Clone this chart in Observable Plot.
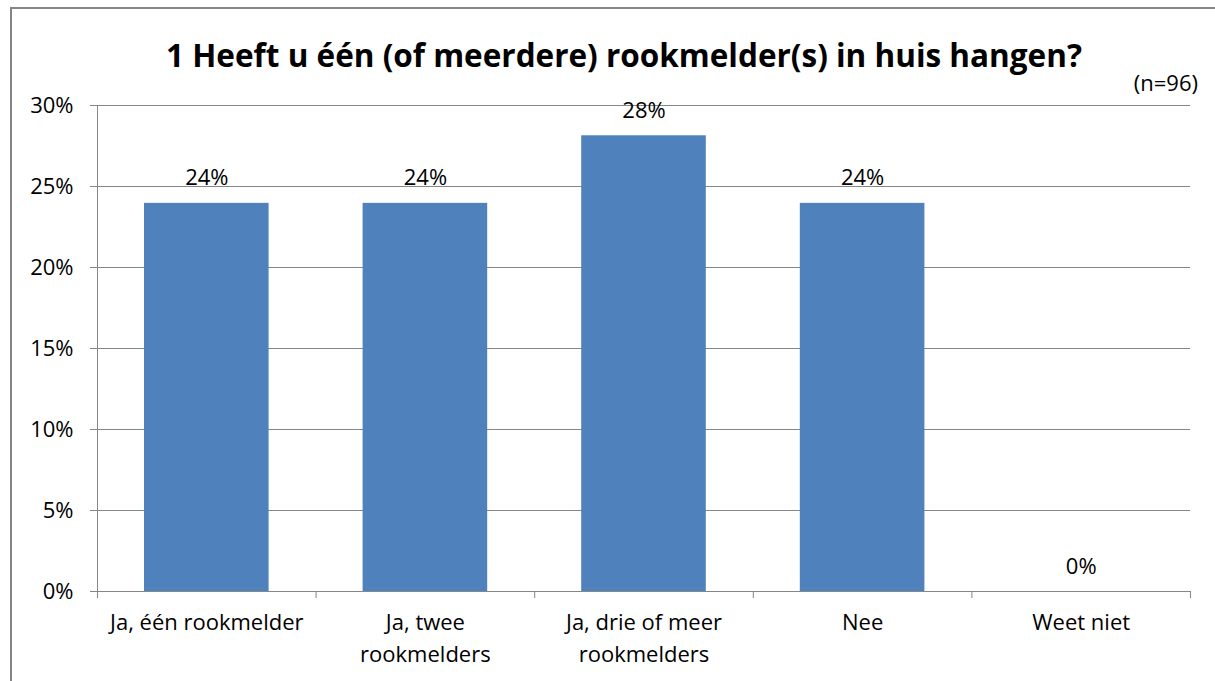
<!DOCTYPE html>
<html><head><meta charset="utf-8">
<script src="https://cdn.jsdelivr.net/npm/d3@7"></script>
<script src="https://cdn.jsdelivr.net/npm/@observablehq/plot@0.6"></script>
<style>
html,body{margin:0;padding:0;background:#fff;overflow:hidden;}
#wrap{position:relative;width:1215px;height:681px;overflow:hidden;font-family:"Open Sans",sans-serif;color:#000;}
#frame{position:absolute;left:10px;top:7px;width:1230px;height:700px;border:2px solid #868686;box-sizing:border-box;}
#title{position:absolute;left:0;top:34px;width:1248px;text-align:center;font-weight:bold;font-size:31.5px;line-height:42px;}
#n{position:absolute;right:17px;top:67px;font-size:22px;line-height:30px;}
#chart{position:absolute;left:0;top:80px;}
</style>
</head><body>
<div id="wrap">
<div id="frame"></div>
<div id="title">1 Heeft u één (of meerdere) rookmelder(s) in huis hangen?</div>
<div id="n">(n=96)</div>
<div id="chart"></div>
</div>
<script>
const categories = ["Ja, één rookmelder", "Ja, twee\nrookmelders", "Ja, drie of meer\nrookmelders", "Nee", "Weet niet"];
const values = [23.96, 23.96, 28.13, 23.96, 0];
const valueLabels = ["24%", "24%", "28%", "24%", "0%"];
const yTicks = [0, 5, 10, 15, 20, 25, 30];
const data = categories.map((c, i) => ({i, c, v: values[i], label: valueLabels[i]}));

const chart = Plot.plot({
  width: 1215, height: 601,
  marginTop: 25, marginBottom: 90, marginLeft: 97, marginRight: 25,
  style: {fontFamily: "Open Sans", fontSize: "22px", color: "#000", background: "transparent"},
  x: {domain: [0, 5], axis: null},
  y: {domain: [0, 30], axis: null},
  marks: [
    Plot.ruleY(yTicks.slice(1), {stroke: "#868686"}),
    Plot.rectY(data, {x1: "i", x2: d => d.i + 1, y: "v", insetLeft: 47, insetRight: 47, fill: "#4F81BD"}),
    Plot.axisY({ticks: yTicks, tickFormat: d => d + "%", tickSize: 7, tickPadding: 17, stroke: "#868686", fontSize: 22, label: null}),
    Plot.ruleX([0], {stroke: "#868686"}),
    Plot.ruleY([0], {stroke: "#868686"}),
    Plot.axisX({ticks: [0, 1, 2, 3, 4, 5], tickFormat: () => "", tickSize: 7, stroke: "#868686", label: null}),
    Plot.text(data, {x: d => d.i + 0.5, y: 0, text: "c", lineAnchor: "top", dy: 16, lineHeight: 1.45, fontSize: 22}),
    Plot.text(data, {x: d => d.i + 0.5, y: "v", text: "label", lineAnchor: "bottom", dy: -18, fontSize: 22})
  ]
});
document.getElementById("chart").appendChild(chart);
</script>
</body></html>
